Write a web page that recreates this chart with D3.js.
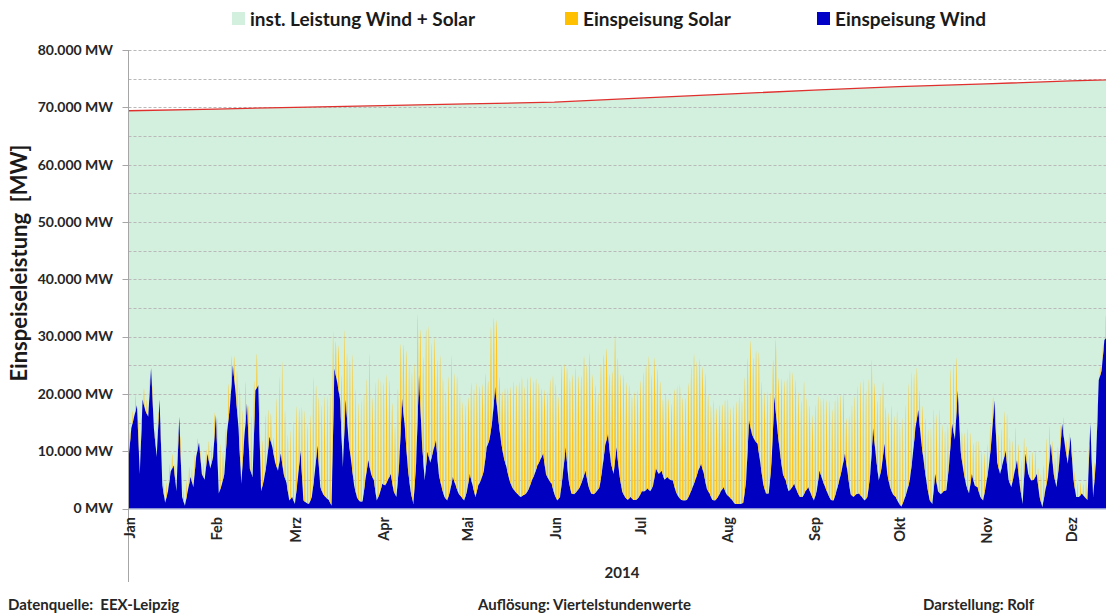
<!DOCTYPE html>
<html>
<head>
<meta charset="utf-8">
<script src="https://cdn.jsdelivr.net/npm/d3@7"></script>
<style>
  body { margin: 0; background: #fff; }
  svg { display: block; font-family: Lato, "Open Sans", sans-serif; }
  text { white-space: pre; }
  .grid line { stroke: #b9b9b9; stroke-dasharray: 3,2; stroke-width: 1; }
  .ylabel { font-size: 14px; font-weight: bold; fill: #262626; }
  .mlabel { font-size: 14.5px; font-weight: bold; fill: #262626; }
  .legend text { font-size: 19px; font-weight: bold; fill: #1a1a1a; }
  .foot { font-size: 15px; font-weight: bold; fill: #262626; }
</style>
</head>
<body>
<svg id="chart" width="1106" height="615"></svg>
<script>
// Einspeisung Wind, daily values in 1.000 MW, from 1 Jan 2014
var wind = [
  8.5, 14, 16, 18, 6, 19, 17, 16, 24.5, 14,
  9, 19, 4, 1, 3, 6.5, 7.5, 3, 16, 2,
  0.5, 3, 5.5, 3.7, 9, 11.5, 6, 5, 9.5, 7,
  9, 16.3, 2.6, 4, 6, 13.5, 18, 25, 20, 14,
  4.3, 11.9, 18.3, 7, 5.5, 20.6, 21.5, 3, 4.9, 8,
  12.5, 10.7, 8, 6.6, 9.6, 6, 4.5, 1.4, 2, 0.8,
  5, 10, 1.4, 1, 0.8, 2, 6, 11, 3.7, 2.5,
  1.9, 1.5, 0.5, 24.4, 22, 19, 7.2, 19, 12, 8,
  4, 1.9, 1.2, 1.2, 5, 8.4, 6, 4.9, 1.4, 2.5,
  4.3, 4, 5, 6, 3, 2, 8, 19.2, 14, 7.2,
  3, 0.8, 8, 23.3, 12, 4.9, 9.9, 8, 10, 11.9,
  6, 3.7, 2, 1.4, 3, 5.5, 4, 2.6, 2, 1.4,
  3, 6, 4, 2, 4, 5, 6.6, 10.7, 12, 15.4,
  21.2, 16, 11.9, 9, 7.2, 5, 3.7, 3, 2.5, 2,
  2.3, 2.6, 3.5, 4.9, 6, 7.5, 8.5, 9.6, 6, 5,
  4.3, 2.5, 1.4, 2, 6, 10.7, 5, 2.6, 2.5, 3,
  3.7, 5, 6.6, 4, 2.6, 2.5, 3, 3.7, 7, 11,
  13, 8, 6, 10.7, 6, 3, 2, 1.5, 2, 1.5,
  1.5, 2, 3, 3, 3.5, 3, 4, 7, 6, 6.6,
  5, 5.5, 5, 4.9, 3, 2, 1.5, 1.4, 1.5, 2.5,
  3.7, 5, 6.6, 7.8, 6, 3.5, 2.6, 1.5, 1.4, 2,
  3, 3.7, 2.5, 2, 1.5, 0.8, 0.8, 0.8, 1, 5,
  15.4, 13, 11.9, 11.3, 8, 4.3, 2.6, 2.6, 8, 19.5,
  14, 9.6, 6, 4.9, 3, 3.5, 4.3, 3, 2, 2,
  3, 3.7, 2.5, 1.4, 3, 6.6, 5, 3.7, 2.5, 1.5,
  1.4, 3, 4.9, 7, 9.6, 6, 2.5, 2, 2.5, 2.6,
  2, 1.4, 2, 6, 14, 9, 4.9, 7, 11.3, 6,
  3.7, 2.5, 2, 1, 0.3, 1.5, 3, 4.9, 9, 14,
  17.2, 11.9, 8, 4.3, 1.5, 0.8, 6, 3, 2.5, 3,
  3.2, 8, 14.8, 12, 20.6, 10, 6.6, 4, 2.6, 6,
  4, 3.7, 2, 1.4, 4, 7.2, 12, 18.9, 8, 6,
  8, 10, 5, 3.7, 6, 8.4, 4, 0.8, 9.6, 6,
  4.9, 5, 6, 2, 0.2, 3, 5.5, 11.3, 6, 3.7,
  8, 14.8, 11, 7.8, 12.5, 5, 2, 2, 2.6, 2,
  1.5, 14.8, 2, 8, 22.4, 24, 29.4, 30
];

// Einspeisung Solar, daily midday peak in 1.000 MW
var solar = [
  2, 2, 3, 3, 2.5, 3, 2.5, 2, 1.5, 2,
  2.5, 1, 2, 2.5, 3, 2.5, 2.5, 3, 3, 2,
  3, 3, 2.3, 3, 2, 1, 2.5, 3, 3.5, 3,
  4, 6, 8, 5, 4, 6, 5, 4, 7, 12,
  9, 7, 5, 10, 9, 6, 7, 8, 10, 7,
  5, 3, 12, 15, 18, 12, 10, 12, 14, 15,
  10, 12, 16, 14, 15, 19, 13, 12, 15, 17.5,
  18, 19, 18, 6, 8, 10, 18, 11.5, 16, 21,
  18, 17, 18, 17, 16, 20, 14, 19, 21, 19,
  18, 19, 17, 14, 12, 16, 15, 12, 17, 20,
  22, 21, 18, 13.4, 18, 24, 23, 20, 19, 17,
  22, 20, 19, 21, 22.6, 19, 20, 18, 17, 16,
  15, 17, 18, 19, 17, 16, 15, 11, 18, 15,
  14.3, 9, 10, 13, 15, 17, 19, 19, 20, 21,
  19, 20, 19, 17, 16, 14, 12, 13, 15, 18,
  20, 20, 18, 21, 17, 16.7, 19, 21, 22, 20,
  19, 21, 20, 24, 21, 19, 17, 20, 18, 16,
  13, 17, 22, 18, 19, 21, 20.4, 20, 18, 19,
  19, 20, 21, 22, 23.5, 20, 21, 18, 16, 13.4,
  15, 14, 13.5, 17, 19, 20, 18, 18, 20, 22,
  22.8, 20, 19, 18, 19, 17, 16, 17.5, 16, 15.7,
  15, 16, 17, 16, 17, 18, 19, 18, 20, 16,
  15.2, 14, 16, 17.7, 16, 17, 18, 15, 12, 12.8,
  11, 15, 17, 19, 21, 20, 19, 18, 17, 19.8,
  16, 15, 14.5, 16, 15, 13.4, 15, 16, 17, 16,
  17, 16, 14, 12, 8, 12, 16, 17.5, 19, 20,
  21, 19, 18.7, 16, 10.4, 12, 14, 13, 9, 12,
  15, 14, 15.7, 14, 15, 16, 18, 17, 12, 9,
  6, 8, 9.7, 11, 13, 14, 12, 14.7, 12, 10.6,
  9, 13, 12, 10, 1, 5, 8, 10.8, 9, 6.5,
  8, 9, 8.5, 7, 5.6, 5, 4, 4, 6, 7,
  8, 9, 8, 7, 7, 5, 6, 7, 3, 4,
  5, 4.6, 3, 5, 6, 8, 6, 3, 4, 5,
  3, 3, 2.5, 3, 2, 3, 2.5, 2.3, 2, 3,
  2.5, 2, 3, 2.5, 1.6, 2, 4, 3
];

// inst. Leistung Wind + Solar at the first of each month (1.000 MW), Jan 2014 .. Jan 2015
var capacity = [69.4, 69.7, 70.0, 70.3, 70.6, 70.9, 71.6, 72.3, 73.0, 73.6, 74.1, 74.6, 75.1];

// hours of daylight per month (width of the solar peaks)
var dayLength = [9, 10.5, 12, 14, 15.5, 16.5, 16, 14.5, 13, 11, 9.5, 8.5];

var monthLabels = ["Jan", "Feb", "Mrz", "Apr", "Mai", "Jun", "Jul", "Aug", "Sep", "Okt", "Nov", "Dez"];
var yTicks = [0, 10, 20, 30, 40, 50, 60, 70, 80];
var gridTicks = [5, 10, 15, 20, 25, 30, 35, 40, 45, 50, 55, 60, 65, 70, 75, 80];

var svg = d3.select("#chart"),
    width = +svg.attr("width"),
    height = +svg.attr("height");

var de = d3.formatLocale({decimal: ",", thousands: ".", grouping: [3], currency: ["", " €"]});
var format = de.format(",d");

var start = new Date(Date.UTC(2014, 0, 1));
var monthStarts = d3.utcMonth.range(start, new Date(Date.UTC(2015, 0, 2)))
    .map(function(d) { return d3.utcDay.count(start, d); });

var x = d3.scaleLinear()
    .domain([0, 365])
    .range([128.5, 1158]);

var y = d3.scaleLinear()
    .domain([0, 80])
    .range([508.5, 50]);

var windAt = d3.scaleLinear()
    .domain(wind.map(function(d, i) { return i; }))
    .range(wind)
    .clamp(true);

// Installed capacity (green area + red line)
svg.append("path")
    .datum(capacity)
    .attr("fill", "#d3f0df")
    .attr("d", d3.area()
      .x(function(d, i) { return x(monthStarts[i]); })
      .y0(y(0))
      .y1(function(d) { return y(d); }));

// Grid
svg.append("g")
    .attr("class", "grid")
  .selectAll("line")
  .data(gridTicks)
  .enter().append("line")
    .attr("x1", x(0))
    .attr("x2", width)
    .attr("y1", function(d) { return Math.round(y(d)) + 0.5; })
    .attr("y2", function(d) { return Math.round(y(d)) + 0.5; });

svg.append("path")
    .datum(capacity)
    .attr("fill", "none")
    .attr("stroke", "#e0302e")
    .attr("stroke-width", 1.3)
    .attr("d", d3.line()
      .x(function(d, i) { return x(monthStarts[i]); })
      .y(function(d) { return y(d); }));

// Wind
svg.append("path")
    .datum(wind)
    .attr("fill", "#0000c0")
    .attr("d", d3.area()
      .x(function(d, i) { return x(i); })
      .y0(y(0))
      .y1(function(d) { return y(d); }));

// Solar stacked on wind: each day a bump from sunrise to sunset
var solarPts = [];
solar.forEach(function(s, d) {
  var m = new Date(Date.UTC(2014, 0, 1 + d)).getUTCMonth();
  var L = dayLength[m] / 24;
  d3.range(0, 11).forEach(function(k) {
    var f = k / 10, t = d + 0.5 - L / 2 + f * L;
    solarPts.push({t: t, w: windAt(t), s: s * Math.pow(Math.sin(Math.PI * f), 0.75)});
  });
});

svg.append("path")
    .datum(solarPts)
    .attr("fill", "#fdc624")
    .attr("d", d3.area()
      .x(function(d) { return x(d.t); })
      .y0(function(d) { return y(d.w); })
      .y1(function(d) { return y(d.w + d.s); }));

// Axes
svg.append("line")
    .attr("x1", x(0)).attr("x2", width)
    .attr("y1", y(0) + 0.5).attr("y2", y(0) + 0.5)
    .attr("stroke", "#9eaad0");

svg.append("line")
    .attr("x1", x(0)).attr("x2", x(0))
    .attr("y1", y(80)).attr("y2", 582)
    .attr("stroke", "#a6a6a6");

var yg = svg.append("g");
yg.selectAll("line")
  .data(yTicks)
  .enter().append("line")
    .attr("x1", x(0) - 6).attr("x2", x(0))
    .attr("y1", function(d) { return Math.round(y(d)) + 0.5; })
    .attr("y2", function(d) { return Math.round(y(d)) + 0.5; })
    .attr("stroke", "#a6a6a6");

yg.selectAll("text")
  .data(yTicks)
  .enter().append("text")
    .attr("class", "ylabel")
    .attr("x", 113)
    .attr("y", function(d) { return y(d); })
    .attr("dy", "0.35em")
    .attr("text-anchor", "end")
    .text(function(d) { return format(d * 1000) + " MW"; });

svg.append("text")
    .attr("transform", "translate(27,263) rotate(-90)")
    .attr("text-anchor", "middle")
    .attr("font-size", "22px")
    .attr("font-weight", "bold")
    .attr("fill", "#1a1a1a")
    .text("Einspeiseleistung  [MW]");

svg.append("g").selectAll("text")
  .data(monthLabels)
  .enter().append("text")
    .attr("class", "mlabel")
    .attr("text-anchor", "end")
    .attr("transform", function(d, i) { return "translate(" + (x(monthStarts[i]) + 6.5) + ",517) rotate(-90)"; })
    .text(function(d) { return d; });

svg.append("text")
    .attr("x", 622).attr("y", 578)
    .attr("text-anchor", "middle")
    .attr("font-size", "15px")
    .attr("font-weight", "bold")
    .attr("fill", "#262626")
    .text("2014");

// Legend
var legendItems = [
  {label: "inst. Leistung Wind + Solar", color: "#d3f0df", x: 232},
  {label: "Einspeisung Solar", color: "#ffc000", x: 565},
  {label: "Einspeisung Wind", color: "#0000c8", x: 817}
];

var lg = svg.append("g").attr("class", "legend");
lg.selectAll("rect")
  .data(legendItems)
  .enter().append("rect")
    .attr("x", function(d) { return d.x; })
    .attr("y", 12)
    .attr("width", 13)
    .attr("height", 13)
    .attr("fill", function(d) { return d.color; });

lg.selectAll("text")
  .data(legendItems)
  .enter().append("text")
    .attr("x", function(d) { return d.x + 18; })
    .attr("y", 26)
    .text(function(d) { return d.label; });

// Footer
var foot = [
  {text: "Datenquelle:  EEX-Leipzig", x: 8},
  {text: "Auflösung: Viertelstundenwerte", x: 478},
  {text: "Darstellung: Rolf", x: 923}
];
svg.selectAll(".foot")
  .data(foot)
  .enter().append("text")
    .attr("class", "foot")
    .attr("x", function(d) { return d.x; })
    .attr("y", 610)
    .text(function(d) { return d.text; });
</script>
</body>
</html>
